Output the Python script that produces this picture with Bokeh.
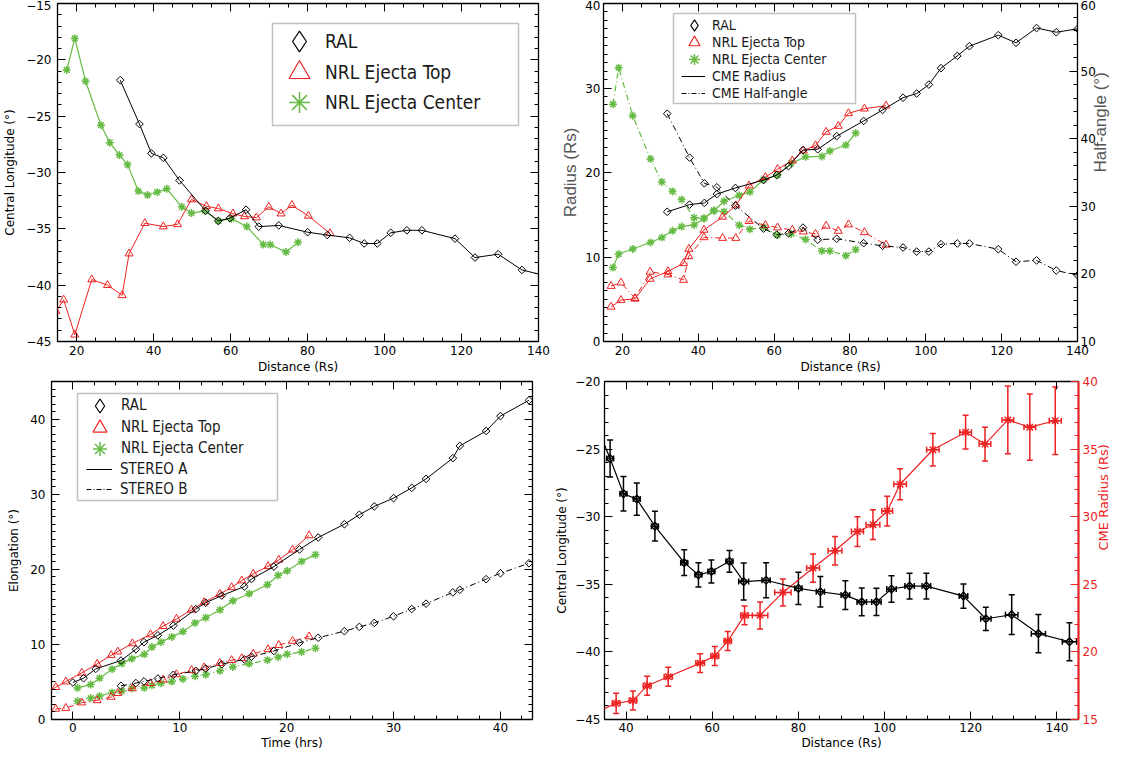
import math
from bokeh.plotting import figure
from bokeh.models import (Range1d, LinearAxis, SingleIntervalTicker, Legend, LegendItem,
                          Whisker, TeeHead, ColumnDataSource, Grid, BoxAnnotation)
from bokeh.layouts import column, row
from bokeh.embed import file_html
from bokeh.resources import INLINE

NAN = float("nan")

# ---------------- data ----------------
# Panel 1 / 4 : RAL central longitude vs distance
ral_lon_dist = [31.3, 36.3, 39.4, 42.5, 46.7, 53.5, 56.8, 59.8, 64.0, 67.3, 72.5, 80.0,
                85.1, 90.9, 94.7, 98.1, 101.6, 105.8, 109.7, 118.3, 123.5, 129.5, 135.7, 142.9]
ral_lon = [-21.8, -25.7, -28.3, -28.7, -30.7, -33.4, -34.3, -34.05, -33.3, -34.8, -34.7, -35.3,
           -35.55, -35.8, -36.3, -36.3, -35.35, -35.13, -35.13, -35.87, -37.55, -37.25, -38.65, -39.25]
ral_lon_yerr = [1.4, 1.37, 1.27, 1.2, 1.1, 0.95, 0.9, 0.85, 0.8, 1.37, 1.3, 1.2,
                1.13, 1.07, 1.03, 1.0, 0.98, 0.95, 0.95, 0.9, 0.86, 1.47, 1.42, 1.4]
ral_lon_xerr = [0.8, 0.8, 0.8, 0.8, 0.8, 0.8, 0.8, 0.8, 0.8, 1.15, 0.95, 0.85,
                0.95, 1.0, 1.1, 1.1, 1.1, 1.1, 1.0, 1.0, 1.2, 1.45, 1.65, 1.65]

nrl_top_lon_dist = [14.6, 16.6, 19.5, 23.9, 28.0, 31.8, 33.6, 37.7, 42.5, 46.2, 49.8, 53.7,
                    56.8, 60.6, 63.6, 66.7, 69.9, 73.1, 75.9, 80.2, 85.8]
nrl_top_lon = [-42.3, -41.3, -44.4, -39.5, -40.0, -40.9, -37.2, -34.5, -34.8, -34.6, -32.4, -33.0,
               -33.2, -33.65, -33.9, -34.0, -33.05, -33.65, -32.9, -33.85, -35.4]
nrl_ctr_lon_dist = [17.4, 19.5, 22.3, 26.3, 28.6, 31.1, 33.2, 36.0, 38.4, 40.9, 43.4, 47.3,
                    49.8, 53.3, 56.8, 60.2, 64.2, 68.5, 70.3, 74.4, 77.5]
nrl_ctr_lon = [-20.9, -18.1, -21.9, -25.8, -27.35, -28.45, -29.3, -31.65, -32.0, -31.75, -31.45, -33.05,
               -33.6, -33.4, -34.3, -34.1, -34.8, -36.4, -36.4, -37.05, -36.2]

# Panel 2 : radius and half-angle vs distance
ral_rad_dist = [31.8, 37.7, 41.6, 44.9, 49.8, 57.2, 60.7, 63.8, 67.6, 71.5, 76.5, 83.6,
                88.6, 94.0, 97.6, 100.8, 104.0, 108.3, 111.5, 119.1, 123.8, 129.2, 134.4, 140.0]
ral_radius = [15.35, 16.2, 16.4, 17.45, 18.17, 19.1, 19.7, 20.75, 22.65, 22.75, 24.3, 26.1,
              27.4, 28.85, 29.35, 30.4, 32.35, 33.8, 34.95, 36.25, 35.35, 37.1, 36.6, 37.0]
ral_half = [43.7, 37.2, 33.4, 32.8, 30.1, 26.7, 25.8, 26.0, 26.85, 25.05, 25.2, 24.55,
            24.15, 23.9, 23.3, 23.3, 24.4, 24.5, 24.5, 23.65, 21.8, 22.0, 20.5, 19.8]

nrl_top_rad_dist = [17.0, 19.6, 23.3, 27.3, 32.0, 36.1, 37.5, 41.5, 46.4, 49.9, 53.4, 57.7,
                    60.9, 64.8, 67.7, 70.9, 73.7, 76.9, 79.6, 83.8, 89.5]
nrl_top_radius = [4.1, 4.9, 5.05, 7.4, 8.3, 9.25, 10.95, 13.2, 14.75, 16.1, 18.45, 19.45,
                  20.4, 21.4, 22.6, 23.2, 24.8, 25.5, 27.0, 27.55, 27.9]
nrl_top_half = [18.2, 18.7, 16.4, 20.3, 19.9, 19.1, 22.6, 25.4, 25.3, 25.3, 27.8, 27.2,
                26.85, 26.5, 26.25, 25.9, 27.1, 26.35, 27.3, 26.15, 24.3]

nrl_ctr_rad_dist = [17.5, 19.0, 22.7, 27.4, 30.4, 33.2, 35.6, 38.9, 41.5, 44.1, 46.8, 50.8,
                    53.6, 57.2, 60.9, 64.5, 68.3, 72.6, 74.7, 78.9, 81.5]
nrl_ctr_radius = [8.75, 10.35, 10.95, 11.72, 12.3, 13.1, 13.6, 13.8, 14.56, 15.45, 16.6, 17.3,
                  17.7, 19.15, 19.7, 21.1, 21.85, 21.9, 22.55, 23.25, 24.66]
nrl_ctr_half = [45.1, 50.5, 43.4, 37.0, 33.6, 32.2, 31.0, 28.3, 28.2, 29.4, 29.2, 27.2,
                26.6, 26.9, 25.75, 25.9, 25.1, 23.4, 23.4, 22.7, 23.6]

# Panel 3 : elongation vs time
ral_time_a = [0.0, 1.0, 2.14, 4.5, 5.9, 6.65, 7.95, 9.4, 11.5, 12.43, 13.93, 16.04, 16.7, 18.8,
              21.2, 22.95, 25.4, 26.8, 28.2, 30.0, 31.7, 33.04, 35.55, 36.2, 38.66, 40.0, 42.67]
ral_elong_a = [4.93, 5.5, 6.74, 7.85, 9.34, 10.3, 11.2, 12.5, 14.7, 15.55, 16.5, 17.7, 18.7, 20.35,
               22.64, 24.23, 26.0, 27.27, 28.37, 29.47, 30.84, 32.03, 34.8, 36.43, 38.41, 40.4, 42.5]
ral_time_b = [4.5, 5.9, 6.65, 7.95, 9.4, 11.5, 12.43, 13.93, 16.04, 16.7, 18.8,
              21.2, 22.95, 25.4, 26.8, 28.2, 30.0, 31.7, 33.04, 35.55, 36.2, 38.66, 40.0, 42.67]
ral_elong_b = [4.49, 4.85, 5.07, 5.46, 5.95, 6.48, 6.78, 7.36, 8.0, 8.37, 9.12,
               10.22, 10.88, 11.76, 12.33, 12.86, 13.74, 14.71, 15.42, 16.92, 17.27, 18.68, 19.47, 20.8]

nrl_top_time = [-2.6, -1.6, -0.66, 0.83, 2.27, 3.58, 4.2, 5.57, 7.26, 8.44, 9.69, 11.1,
                12.28, 13.74, 14.85, 15.8, 16.88, 18.26, 19.26, 20.55, 22.1]
nrl_top_elong_a = [3.4, 4.3, 5.05, 6.2, 7.4, 8.55, 9.03, 10.13, 11.32, 12.42, 13.39, 14.6,
                   15.6, 16.7, 17.6, 18.5, 19.4, 20.4, 21.25, 22.6, 24.5]
nrl_top_elong_b = [0.3, 1.41, 1.52, 2.25, 2.55, 3.0, 3.5, 4.14, 4.82, 5.3, 6.0, 6.55,
                   6.92, 7.5, 7.89, 8.15, 8.75, 9.34, 9.9, 10.45, 11.05]
nrl_ctr_time = [0.43, 1.67, 2.5, 3.67, 4.58, 5.51, 6.68, 7.4, 8.25, 9.25, 10.3, 11.43,
                12.43, 13.77, 14.97, 16.5, 18.2, 19.2, 20.05, 21.4, 22.7]
nrl_ctr_elong_a = [4.2, 4.65, 5.5, 6.7, 7.44, 8.1, 8.68, 9.65, 10.3, 11.0, 11.7, 12.85,
                   13.55, 14.6, 15.8, 16.75, 17.95, 19.2, 19.8, 21.05, 21.95]
nrl_ctr_elong_b = [2.45, 2.85, 3.12, 3.6, 3.78, 4.15, 4.2, 4.55, 4.82, 5.05, 5.4, 5.77,
                   5.97, 6.48, 7.0, 7.43, 7.9, 8.3, 8.7, 9.0, 9.5]

# Panel 4 : CME radius (right axis) with error bars
rad4_dist = [31.8, 37.7, 41.6, 44.9, 49.8, 57.2, 60.6, 63.6, 67.5, 71.1, 76.4, 83.4,
             88.5, 93.7, 97.3, 100.6, 103.6, 111.2, 118.8, 123.3, 128.6, 133.7, 139.6]
rad4 = [15.35, 16.2, 16.4, 17.5, 18.16, 19.17, 19.7, 20.8, 22.7, 22.7, 24.4, 26.2,
        27.48, 28.9, 29.41, 30.42, 32.4, 34.95, 36.25, 35.37, 37.16, 36.62, 37.1]
rad4_yerr = [0.7, 0.75, 0.7, 0.7, 0.7, 0.7, 0.7, 0.7, 0.7, 1.0, 1.0, 1.05,
             1.05, 1.1, 1.1, 1.1, 1.15, 1.2, 1.25, 1.25, 2.5, 2.45, 2.5]
rad4_xerr = [0.9, 0.9, 0.88, 0.9, 0.95, 1.0, 0.9, 0.85, 0.9, 1.8, 1.9, 1.5,
             1.6, 1.4, 1.6, 1.25, 1.45, 1.45, 1.35, 1.35, 1.35, 1.35, 1.4]

# ---------------- style ----------------
RED = "#ee2222"
GREEN = "#66bb44"
DASHDOT = "6 3 1 3"
LEG_DASHDOT = "5 2 1 2"
TICK_FONT = "DejaVu Sans"
LEG_FONT = "DejaVu Sans Condensed, Liberation Sans, sans-serif"


def base_fig(xr, yr, fw, fh, bl, br, bt, bb):
    p = figure(x_range=Range1d(*xr), y_range=Range1d(*yr), frame_width=fw, frame_height=fh,
               min_border_left=bl, min_border_right=br, min_border_top=bt, min_border_bottom=bb,
               x_axis_location=None, y_axis_location=None,
               output_backend="svg", toolbar_location=None, tools="")
    for g in p.select(type=Grid):
        g.visible = False
    p.outline_line_color = "black"
    p.outline_line_width = 1.3
    p.background_fill_color = "white"
    p.border_fill_color = "white"
    return p


def add_axis(p, side, interval, minors, labels=True, label=None, color="black",
             font_size="12px", title_size="12px", title_font="DejaVu Sans", title_color="black",
             range_name=None, standoff=5, title_standoff=4, orient=None, line_color=None):
    kw = {}
    if range_name is not None:
        kw["y_range_name"] = range_name
    ax = LinearAxis(ticker=SingleIntervalTicker(interval=interval, num_minor_ticks=minors), **kw)
    ax.axis_line_color = line_color
    if line_color is not None:
        ax.axis_line_width = 2
    ax.major_tick_in = 8
    ax.major_tick_out = 0
    ax.minor_tick_in = 4
    ax.minor_tick_out = 0
    ax.major_tick_line_color = color
    ax.minor_tick_line_color = color
    if labels:
        ax.major_label_text_font = TICK_FONT
        ax.major_label_text_font_size = font_size
        ax.major_label_text_color = color
        ax.major_label_standoff = standoff
    else:
        ax.major_label_text_font_size = "1px"
        ax.major_label_text_color = None
        ax.major_label_standoff = 0
    if label:
        ax.axis_label = label
        ax.axis_label_text_font = title_font
        ax.axis_label_text_font_size = title_size
        ax.axis_label_text_font_style = "normal"
        ax.axis_label_text_color = title_color
        ax.axis_label_standoff = title_standoff
        if orient is not None:
            try:
                ax.axis_label_orientation = orient
            except Exception:
                pass
    p.add_layout(ax, side)
    return ax


def build_legend(p, box, rows, font_size):
    """box = (left, top, width, height) in pixels from the frame's top-left corner.
    rows = (label, kind, style, center_y, x_offset, glyph_w, glyph_h, standoff)"""
    fw, fh = p.frame_width, p.frame_height
    xr, yr = p.x_range, p.y_range

    def xd(px):
        return xr.start + px / fw * (xr.end - xr.start)

    def yd(py):
        return yr.end - py / fh * (yr.end - yr.start)

    l, t, w, h = box
    p.add_layout(BoxAnnotation(left=xd(l), right=xd(l + w), top=yd(t), bottom=yd(t + h),
                               fill_color="white", fill_alpha=1.0,
                               line_color="#333333", line_width=1.5, level="annotation"))
    for lab, kind, style, cy, xo, gw, gh, so in rows:
        if kind == "line":
            r = p.line(x=[NAN], y=[NAN], **style)
        else:
            r = p.scatter(x=[NAN], y=[NAN], marker=kind, **style)
        leg = Legend(items=[LegendItem(label=lab, renderers=[r])],
                     location=(l + xo, fh - (t + cy) - gh / 2.0), orientation="vertical",
                     glyph_width=gw, glyph_height=gh, label_height=gh, spacing=0, padding=0,
                     label_standoff=so, margin=0,
                     label_text_font=LEG_FONT, label_text_font_size=font_size,
                     label_text_color="#1a1a1a", label_text_baseline="middle",
                     border_line_color=None, background_fill_alpha=0.0)
        p.add_layout(leg)


def diamonds(p, x, y, size=5.4, width=1.0, **kw):
    p.scatter(x, y, marker="square", angle=math.pi / 4, size=size, line_color="black",
              fill_color=None, line_width=width, **kw)


def triangles(p, x, y, size=8, **kw):
    p.scatter(x, y, marker="triangle", size=size, line_color=RED, fill_color=None,
              line_width=1.0, **kw)


def stars(p, x, y, size=8, color=GREEN, **kw):
    p.scatter(x, y, marker="asterisk", size=size, line_color=color, line_width=1.5, **kw)


ST_RAL = dict(line_color="black", fill_color=None, line_width=1.2)
ST_TOP = dict(line_color=RED, fill_color=None, line_width=1.2)
ST_CTR = dict(line_color=GREEN, line_width=1.5)

# ---------------- panel 1 ----------------
p1 = base_fig((15, 140), (-45, -15), 481, 338, 51, 20, 3, 34)
add_axis(p1, "below", 20, 4, label="Distance (Rs)", standoff=4, title_standoff=2)
add_axis(p1, "above", 20, 4, labels=False)
add_axis(p1, "left", 5, 5, label="Central Longitude (°)", standoff=6, title_standoff=6)
add_axis(p1, "right", 5, 5, labels=False)

p1.line(nrl_ctr_lon_dist, nrl_ctr_lon, line_color=GREEN, line_width=1.2)
stars(p1, nrl_ctr_lon_dist, nrl_ctr_lon)
p1.line(nrl_top_lon_dist, nrl_top_lon, line_color=RED, line_width=1.0)
triangles(p1, nrl_top_lon_dist, nrl_top_lon)
p1.line(ral_lon_dist, ral_lon, line_color="black", line_width=1.0)
diamonds(p1, ral_lon_dist, ral_lon)

build_legend(p1, (215, 20, 246, 102), [
    ("RAL", "diamond", ST_RAL, 18, 1, 52, 52, 0),
    ("NRL Ejecta Top", "triangle", ST_TOP, 49, 1, 52, 52, 0),
    ("NRL Ejecta Center", "asterisk", ST_CTR, 79, 1, 52, 52, 0),
], "19px")

# ---------------- panel 2 ----------------
p2 = base_fig((15, 140), (0, 40), 474, 338, 42, 41, 3, 34)
p2.extra_y_ranges = {"h": Range1d(10, 60)}
add_axis(p2, "below", 20, 4, label="Distance (Rs)", standoff=4, title_standoff=2)
add_axis(p2, "above", 20, 4, labels=False)
add_axis(p2, "left", 10, 10, label="Radius (Rs)", title_size="17px",
         title_font="Liberation Sans", title_color="#555555", standoff=3, title_standoff=2)
add_axis(p2, "right", 10, 5, label="Half-angle (°)", title_size="17px",
         title_font="Liberation Sans", title_color="#555555", range_name="h",
         standoff=3, title_standoff=2, orient=math.pi / 2)

p2.line(nrl_ctr_rad_dist, nrl_ctr_radius, line_color=GREEN, line_width=1.2)
stars(p2, nrl_ctr_rad_dist, nrl_ctr_radius)
p2.line(nrl_ctr_rad_dist, nrl_ctr_half, y_range_name="h", line_color=GREEN, line_width=1.2,
        line_dash=DASHDOT)
stars(p2, nrl_ctr_rad_dist, nrl_ctr_half, y_range_name="h")
p2.line(nrl_top_rad_dist, nrl_top_radius, line_color=RED, line_width=1.0)
triangles(p2, nrl_top_rad_dist, nrl_top_radius)
p2.line(nrl_top_rad_dist, nrl_top_half, y_range_name="h", line_color=RED, line_width=1.0,
        line_dash=DASHDOT)
triangles(p2, nrl_top_rad_dist, nrl_top_half, y_range_name="h")
p2.line(ral_rad_dist, ral_radius, line_color="black", line_width=1.0)
diamonds(p2, ral_rad_dist, ral_radius)
p2.line(ral_rad_dist, ral_half, y_range_name="h", line_color="black", line_width=1.0,
        line_dash=DASHDOT)
diamonds(p2, ral_rad_dist, ral_half, y_range_name="h")

build_legend(p2, (70, 10, 182, 90), [
    ("RAL", "diamond", ST_RAL, 11.7, 7, 28, 28, 4),
    ("NRL Ejecta Top", "triangle", ST_TOP, 29, 7, 28, 28, 4),
    ("NRL Ejecta Center", "asterisk", ST_CTR, 46, 7, 28, 28, 4),
    ("CME Radius", "line", dict(line_color="black", line_width=1.0), 62.7, 8, 24, 20, 7),
    ("CME Half-angle", "line", dict(line_color="black", line_width=1.0, line_dash=LEG_DASHDOT),
     80, 8, 24, 20, 7),
], "14px")

# ---------------- panel 3 ----------------
p3 = base_fig((-2, 43), (0, 45), 481, 338, 51, 20, 5, 32)
add_axis(p3, "below", 10, 5, label="Time (hrs)", standoff=3, title_standoff=1)
add_axis(p3, "above", 10, 5, labels=False)
add_axis(p3, "left", 10, 10, label="Elongation (°)", standoff=6, title_standoff=6)
add_axis(p3, "right", 10, 10, labels=False)

p3.line(nrl_ctr_time, nrl_ctr_elong_a, line_color=GREEN, line_width=1.2)
stars(p3, nrl_ctr_time, nrl_ctr_elong_a)
p3.line(nrl_ctr_time, nrl_ctr_elong_b, line_color=GREEN, line_width=1.2, line_dash=DASHDOT)
stars(p3, nrl_ctr_time, nrl_ctr_elong_b)
p3.line(nrl_top_time, nrl_top_elong_a, line_color=RED, line_width=1.0)
triangles(p3, nrl_top_time, nrl_top_elong_a)
p3.line(nrl_top_time, nrl_top_elong_b, line_color=RED, line_width=1.0, line_dash=DASHDOT)
triangles(p3, nrl_top_time, nrl_top_elong_b)
p3.line(ral_time_a, ral_elong_a, line_color="black", line_width=1.0)
diamonds(p3, ral_time_a, ral_elong_a)
p3.line(ral_time_b, ral_elong_b, line_color="black", line_width=1.0, line_dash=DASHDOT)
diamonds(p3, ral_time_b, ral_elong_b)

build_legend(p3, (26, 12, 200, 107), [
    ("RAL", "diamond", ST_RAL, 12.3, 5, 35, 35, 4),
    ("NRL Ejecta Top", "triangle", ST_TOP, 34, 5, 35, 35, 4),
    ("NRL Ejecta Center", "asterisk", ST_CTR, 55, 5, 35, 35, 4),
    ("STEREO A", "line", dict(line_color="black", line_width=1.0), 75.6, 9, 26, 22, 8),
    ("STEREO B", "line", dict(line_color="black", line_width=1.0, line_dash=LEG_DASHDOT),
     95.6, 9, 26, 22, 8),
], "15px")

# ---------------- panel 4 ----------------
p4 = base_fig((35, 145), (-45, -20), 474, 338, 42, 41, 5, 32)
p4.extra_y_ranges = {"r": Range1d(15, 40)}
add_axis(p4, "below", 20, 4, label="Distance (Rs)", standoff=3, title_standoff=1)
add_axis(p4, "above", 20, 4, labels=False)
add_axis(p4, "left", 5, 5, label="Central Longitude (°)", standoff=4, title_standoff=3)
add_axis(p4, "right", 5, 5, label="CME Radius (Rs)", color=RED, title_color=RED,
         title_size="13px", range_name="r", standoff=4, title_standoff=3,
         orient=math.pi / 2, line_color=RED)

x0 = p4.x_range.start
lon_src = ColumnDataSource(dict(
    x=[d for d in ral_lon_dist if d >= x0],
    y=[v for d, v in zip(ral_lon_dist, ral_lon) if d >= x0],
    yl=[v - e for d, v, e in zip(ral_lon_dist, ral_lon, ral_lon_yerr) if d >= x0],
    yu=[v + e for d, v, e in zip(ral_lon_dist, ral_lon, ral_lon_yerr) if d >= x0],
    xl=[d - e for d, e in zip(ral_lon_dist, ral_lon_xerr) if d >= x0],
    xu=[d + e for d, e in zip(ral_lon_dist, ral_lon_xerr) if d >= x0],
))
rad_src = ColumnDataSource(dict(
    x=[d for d in rad4_dist if d >= x0],
    y=[v for d, v in zip(rad4_dist, rad4) if d >= x0],
    yl=[v - e for d, v, e in zip(rad4_dist, rad4, rad4_yerr) if d >= x0],
    yu=[v + e for d, v, e in zip(rad4_dist, rad4, rad4_yerr) if d >= x0],
    xl=[d - e for d, e in zip(rad4_dist, rad4_xerr) if d >= x0],
    xu=[d + e for d, e in zip(rad4_dist, rad4_xerr) if d >= x0],
))


def whiskers(p, src, color, range_name="default"):
    for dim, base, lo, up in (("height", "x", "yl", "yu"), ("width", "y", "xl", "xu")):
        w = Whisker(source=src, base=base, lower=lo, upper=up, dimension=dim,
                    line_color=color, line_width=1.5, y_range_name=range_name,
                    upper_head=TeeHead(size=6, line_color=color, line_width=1.5),
                    lower_head=TeeHead(size=6, line_color=color, line_width=1.5))
        p.add_layout(w)


p4.line(rad4_dist, rad4, y_range_name="r", line_color=RED, line_width=1.2)
whiskers(p4, rad_src, RED, "r")
stars(p4, "x", "y", size=9, color=RED, source=rad_src, y_range_name="r")
p4.line(ral_lon_dist, ral_lon, line_color="black", line_width=1.2)
whiskers(p4, lon_src, "black")
p4.scatter("x", "y", source=lon_src, marker="square", angle=math.pi / 4, size=5.4,
           line_color="black", fill_color=None, line_width=1.5)

layout = column(row(p1, p2), row(p3, p4))
open("out.html", "w").write(file_html(layout, INLINE))
